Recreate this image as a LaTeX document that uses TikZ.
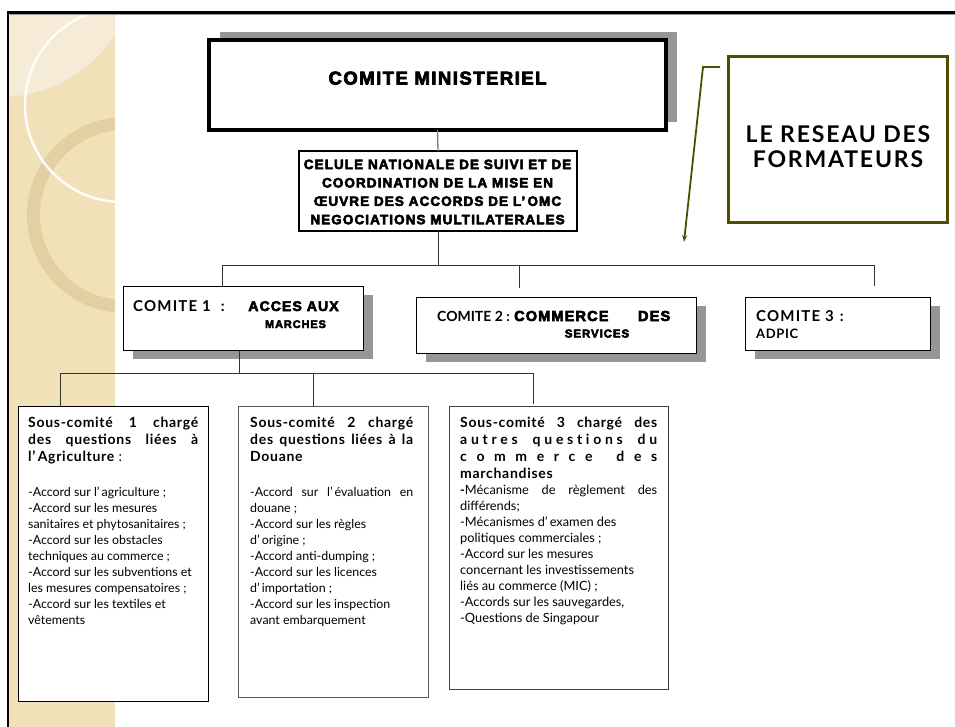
\documentclass[tikz,border=0pt]{standalone}
\usepackage{fontspec}
\setmainfont{Lato}
\newfontfamily\heavy{Liberation Sans}[FakeBold=4,LetterSpace=8]
\newfontfamily\gcap{Lato}[LetterSpace=8]
\newfontfamily\gsub{Lato}[LetterSpace=5]
\usetikzlibrary{shadows,arrows.meta}
\definecolor{olivec}{RGB}{80,76,0}
\definecolor{stripc}{RGB}{241,225,185}
\definecolor{stripl}{RGB}{245,235,214}
\definecolor{ringc}{RGB}{218,196,148}
\definecolor{shadowc}{RGB}{150,150,150}
\definecolor{linec}{RGB}{50,50,50}
\newcommand\Lj[1]{\hbox to\hsize{#1}}
\newcommand\Ll[1]{\hbox to\hsize{#1\hfil}}
\newcommand\gap{\hskip 0pt plus 1fil\relax}
\newcommand\wgap{\hskip 0pt plus 4fil\relax}
\newcommand\xgap{\hskip 0pt plus 2.5fil\relax}
\tikzset{
  boxn/.style={draw, inner sep=0pt, outer sep=0pt, anchor=north west, fill=white},
  shad/.style={drop shadow={shadow xshift=9pt, shadow yshift=-8pt, fill=shadowc, opacity=1}},
  conn/.style={draw=linec, line width=0.9pt},
  txt/.style={inner sep=0pt, anchor=base west},
  htxt/.style={inner sep=0pt, anchor=base},
  comtxt/.style={inner sep=0pt, anchor=base west, font=\gcap\bfseries\fontsize{15}{18}\selectfont},
}
\begin{document}
\begin{tikzpicture}[x=1pt,y=-1pt]
\useasboundingbox (0,0) rectangle (955,727);
% decorative strip
\begin{scope}
\clip (8,12) rectangle (115,727);
\fill[stripc] (8,12) rectangle (115,727);
\fill[stripl] (0,-40) circle (137pt);
\fill[ringc, opacity=0.6, even odd rule] (125,215) circle (98pt) (125,215) circle (85pt);
\draw[white, line width=2.4pt, opacity=0.95] (122,105) circle (97pt);
\end{scope}
% slide frame
\draw[shadowc, line width=1pt] (9.5,14.8) -- (955,14.8);
\draw[black, line width=2.5pt] (8,727) -- (8,12.5) -- (955,12.5);

% top level
\node[boxn, line width=3.5pt, minimum width=457pt, minimum height=90pt,
      drop shadow={shadow xshift=11pt, shadow yshift=8pt, fill=shadowc, opacity=1}] (m) at (209,40) {};
\node[htxt, font=\heavy\bfseries\fontsize{18.5}{22}\selectfont] (mt) at (437.5,84.5) {COMITE MINISTERIEL};

\node[boxn, line width=2.5pt, minimum width=278pt, minimum height=80pt] (c) at (299,151) {};
\node[inner sep=0pt, align=center, font=\heavy\bfseries\fontsize{13.5}{18.4}\selectfont] (ct) at (437.5,192)
  {CELULE NATIONALE DE SUIVI ET DE\\COORDINATION DE LA MISE EN\\ŒUVRE DES ACCORDS DE L’\,OMC\\NEGOCIATIONS MULTILATERALES};

% reseau des formateurs
\node[boxn, draw=olivec, line width=3pt, minimum width=219pt, minimum height=166pt] (r) at (728.5,56.5) {};
\node[inner sep=0pt, align=center, font=\gcap\bfseries\fontsize{23}{25}\selectfont] (rt) at (838,147) {LE RESEAU DES\\FORMATEURS};
\coordinate (a0) at (720,67);
\coordinate (a1) at (703,67);
\coordinate (a2) at (684,242);
\draw[olivec, line width=1.8pt, -{Stealth[length=7pt,width=5pt]}] (a0) -- (a1) -- (a2);

% committees
\node[boxn, line width=1pt, minimum width=240pt, minimum height=64pt, shad] (c1) at (123.5,286.5) {};
\node[comtxt] (c1a) at (133,311) {COMITE 1\hspace{10pt}:};
\node[htxt, font=\heavy\bfseries\fontsize{14}{17}\selectfont] (c1b) at (293.5,311) {ACCES AUX};
\node[htxt, font=\heavy\bfseries\fontsize{11}{13}\selectfont] (c1c) at (295.5,328) {MARCHES};

\node[boxn, line width=1pt, minimum width=280pt, minimum height=56pt, shad] (c2) at (416.5,297.5) {};
\node[txt, font=\bfseries\fontsize{14}{17}\selectfont] (c2a) at (437,321) {COMITE 2 :};
\node[txt, font=\heavy\bfseries\fontsize{14.5}{17}\selectfont] (c2b) at (514,321) {\hbox to 156pt{COMMERCE\hfil DES}};
\node[htxt, font=\heavy\bfseries\fontsize{11.5}{13}\selectfont] (c2c) at (597,337.5) {SERVICES};

\node[boxn, line width=1pt, minimum width=185pt, minimum height=53pt, shad] (c3) at (745.5,297.5) {};
\node[comtxt] (c3a) at (756,321) {COMITE 3\hspace{6pt}:};
\node[txt, font=\gsub\bfseries\fontsize{13}{16}\selectfont] (c3b) at (756,338) {ADPIC};

% connectors upper
\coordinate (j0) at (222,265);
\coordinate (j2) at (519,265);
\coordinate (j3) at (874,265);
\coordinate (j3e) at (874,286);
\draw[draw=gray, line width=1.3pt] (m.south) -- (c.north);
\draw[conn] (c.south) -- (c.south |- j0);
\draw[conn] (c1.north -| j0) -- (j0) -- (j3) -- (j3e);
\draw[conn] (j2) -- ([yshift=10pt]c2.north -| j2);

% sub-committees
\node[boxn, line width=1pt, minimum width=190pt, minimum height=295pt] (s1) at (18.5,406.5) {};
\node[boxn, draw=black!65, line width=1pt, minimum width=190pt, minimum height=291pt] (s2) at (238.5,406.5) {};
\node[boxn, draw=black!75, line width=1pt, minimum width=219pt, minimum height=283pt] (s3) at (449.5,406.5) {};

\coordinate (k0) at (60,373);
\coordinate (k1) at (239,373);
\coordinate (k2) at (313,373);
\coordinate (k3) at (533,373);
\draw[conn] (c1.south -| k1) -- (k1);
\draw[conn] (s1.north -| k0) -- (k0) -- (k3) -- ([yshift=3pt]s3.north -| k3);
\draw[conn] (k2) -- (s2.north -| k2);

\node[txt] (s1t) at (28,427) {\vtop{\hsize=170pt
  \gsub\fontsize{14}{17}\selectfont\bfseries
  \Lj{Sous-comité 1 chargé}
  \Lj{des questions liées à}
  \Ll{l’\,Agriculture\mdseries\ :}
  \vskip 19.5pt
  \rmfamily\fontsize{12.4}{16}\selectfont\mdseries
  \Ll{-Accord sur l’\,agriculture ;}
  \Ll{-Accord sur les mesures}
  \Ll{sanitaires et phytosanitaires ;}
  \Ll{-Accord sur les obstacles}
  \Ll{techniques au commerce ;}
  \Ll{-Accord sur les subventions et}
  \Ll{les mesures compensatoires ;}
  \Ll{-Accord sur les textiles et}
  \Ll{vêtements}}};

\node[txt] (s2t) at (250,427) {\vtop{\hsize=163pt
  \gsub\fontsize{14}{17}\selectfont\bfseries
  \Lj{Sous-comité 2 chargé}
  \Lj{des questions liées à la}
  \Ll{Douane}
  \vskip 19.5pt
  \rmfamily\fontsize{12.4}{16}\selectfont\mdseries
  \Lj{-Accord sur l’\,évaluation en}
  \Ll{douane ;}
  \Ll{-Accord sur les règles}
  \Ll{d’\,origine ;}
  \Ll{-Accord anti-dumping ;}
  \Ll{-Accord sur les licences}
  \Ll{d’\,importation ;}
  \Ll{-Accord sur les inspection}
  \Ll{avant embarquement}}};

\node[txt] (s3t) at (460,427) {\vtop{\hsize=197pt
  \gsub\fontsize{14}{17}\selectfont\bfseries
  \Lj{Sous-comité 3 chargé des}
  \Lj{a\gap u\gap t\gap r\gap e\gap s\wgap q\gap u\gap e\gap s\gap t\gap i\gap o\gap n\gap s\wgap d\gap u}
  \Lj{c\gap o\gap m\gap m\gap e\gap r\gap c\gap e\xgap d\gap e\gap s}
  \Ll{marchandises}
  \vskip 0.5pt
  \rmfamily\fontsize{12.8}{16}\selectfont\mdseries
  \Lj{\textbf{-}Mécanisme de règlement des}
  \Ll{différends;}
  \Ll{-Mécanismes d’\,examen des}
  \Ll{politiques commerciales ;}
  \Ll{-Accord sur les mesures}
  \Ll{concernant les investissements}
  \Ll{liés au commerce (MIC) ;}
  \Ll{-Accords sur les sauvegardes,}
  \Ll{-Questions de Singapour}}};
\end{tikzpicture}
\end{document}
